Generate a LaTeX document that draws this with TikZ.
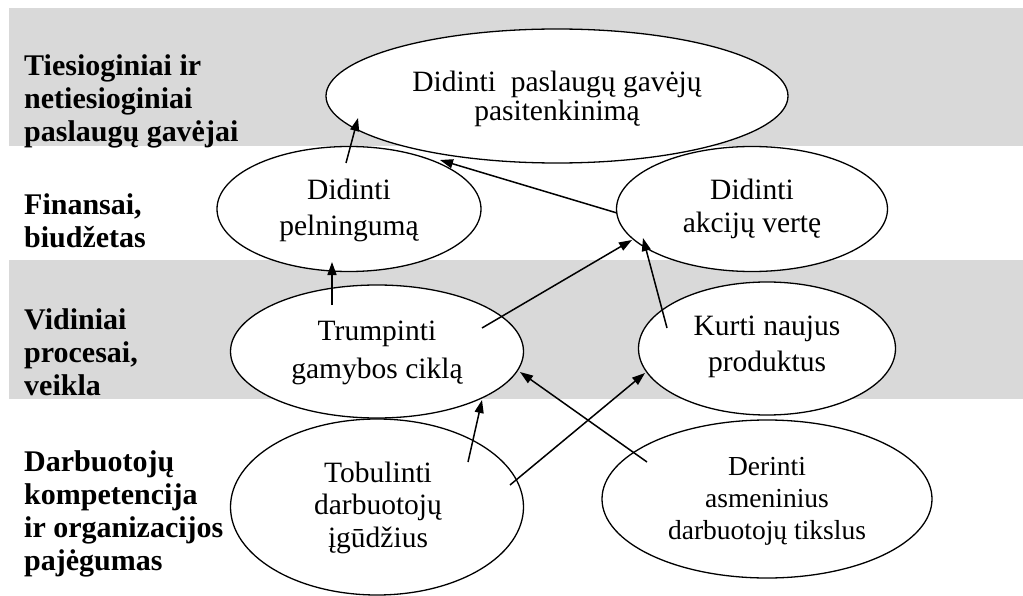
\documentclass[tikz,border=0pt]{standalone}
\usepackage{fontspec}
\setmainfont{Liberation Serif}
\usetikzlibrary{shapes.geometric,arrows.meta,calc}
\definecolor{bandgray}{RGB}{217,217,217}
\begin{document}
\begin{tikzpicture}[x=1pt,y=-1pt,
  ellfill/.style={ellipse,fill=white,draw=none,inner sep=0pt,outer sep=0pt},
  ell/.style={ellipse,draw,line width=1.3pt,inner sep=0pt,outer sep=0pt},
  txt/.style={anchor=base,inner sep=0pt,font=\fontsize{29.5}{34}\selectfont},
  stxt/.style={anchor=base,inner sep=0pt,font=\fontsize{27.5}{32}\selectfont},
  lab/.style={anchor=north west,inner sep=0pt,align=left,font=\fontsize{30}{33}\selectfont\bfseries},
  arr/.style={line width=1.5pt,-{Triangle[length=13pt,width=9pt]}}]
\useasboundingbox (0,0) rectangle (1023,596);
\fill[bandgray] (9,8) rectangle (1023,146);
\fill[bandgray] (9,260) rectangle (1023,399);
% row labels
\node[lab] (l1) at (24,54) {Tiesioginiai ir\\netiesioginiai\\paslaugų gavėjai};
\node[lab] (l2) at (24,193) {Finansai,\\biudžetas};
\node[lab] (l3) at (24,308) {Vidiniai\\procesai,\\veikla};
\node[lab] (l4) at (24,450) {Darbuotojų\\kompetencija\\ir organizacijos\\pajėgumas};
% white fills
\node[ellfill,minimum width=462pt,minimum height=134pt] (ftop) at (557,96) {};
\node[ellfill,minimum width=264pt,minimum height=125pt] (fpel) at (349,209) {};
\node[ellfill,minimum width=271pt,minimum height=125pt] (fakc) at (752,209) {};
\node[ellfill,minimum width=293pt,minimum height=133pt] (ftrump) at (377,351.5) {};
\node[ellfill,minimum width=257pt,minimum height=133pt] (fkurti) at (767,348.5) {};
\node[ellfill,minimum width=293pt,minimum height=176pt] (ftobul) at (377,507) {};
\node[ellfill,minimum width=330pt,minimum height=158pt] (fder) at (767,499) {};
% ellipse outlines
\node[ell,minimum width=462pt,minimum height=134pt] (top) at (ftop) {};
\node[ell,minimum width=264pt,minimum height=125pt] (pel) at (fpel) {};
\node[ell,minimum width=271pt,minimum height=125pt] (akc) at (fakc) {};
\node[ell,minimum width=293pt,minimum height=133pt] (trump) at (ftrump) {};
\node[ell,minimum width=257pt,minimum height=133pt] (kurti) at (fkurti) {};
\node[ell,minimum width=293pt,minimum height=176pt] (tobul) at (ftobul) {};
\node[ell,minimum width=330pt,minimum height=158pt] (der) at (fder) {};
% ellipse texts
\node[txt] (top1) at ($(top)+(0,-4)$) {Didinti~ paslaugų gavėjų};
\node[txt] (top2) at ($(top)+(0,25)$) {pasitenkinimą};
\node[txt] (pel1) at ($(pel)+(0,-9)$) {Didinti};
\node[txt] (pel2) at ($(pel)+(0,27)$) {pelningumą};
\node[txt] (akc1) at ($(akc)+(0,-9)$) {Didinti};
\node[txt] (akc2) at ($(akc)+(0,24)$) {akcijų vertę};
\node[txt] (trump1) at ($(trump)+(0,-11.5)$) {Trumpinti};
\node[txt] (trump2) at ($(trump)+(0,26.5)$) {gamybos ciklą};
\node[txt] (kurti1) at ($(kurti)+(0,-13.5)$) {Kurti naujus};
\node[txt] (kurti2) at ($(kurti)+(0,22.5)$) {produktus};
\node[txt] (tobul1) at ($(tobul)+(1,-25)$) {Tobulinti};
\node[txt] (tobul2) at ($(tobul)+(1,7)$) {darbuotojų};
\node[txt] (tobul3) at ($(tobul)+(1,40)$) {įgūdžius};
\node[stxt] (der1) at ($(der)+(0,-24)$) {Derinti};
\node[stxt] (der2) at ($(der)+(0,8)$) {asmeninius};
\node[stxt] (der3) at ($(der)+(0,40)$) {darbuotojų tikslus};
% arrows
\draw[arr] ($(pel)+(-3,-46)$) -- ($(top)+(-199,22)$);
\draw[arr] ($(akc)+(-135,4)$) -- ($(top)+(-117,64)$);
\draw[arr] ($(trump)+(-45,-46.5)$) -- ($(pel)+(-17,53)$);
\draw[arr] ($(trump)+(105,-23.5)$) -- ($(akc)+(-120,31)$);
\draw[arr] ($(kurti)+(-100,-20.5)$) -- ($(akc)+(-109,29)$);
\draw[arr] ($(tobul)+(91,-45)$) -- ($(trump)+(105,48.5)$);
\draw[arr] ($(tobul)+(133,-22)$) -- ($(kurti)+(-122,24.5)$);
\draw[arr] ($(der)+(-120,-37)$) -- ($(trump)+(143,20.5)$);
\end{tikzpicture}
\end{document}
